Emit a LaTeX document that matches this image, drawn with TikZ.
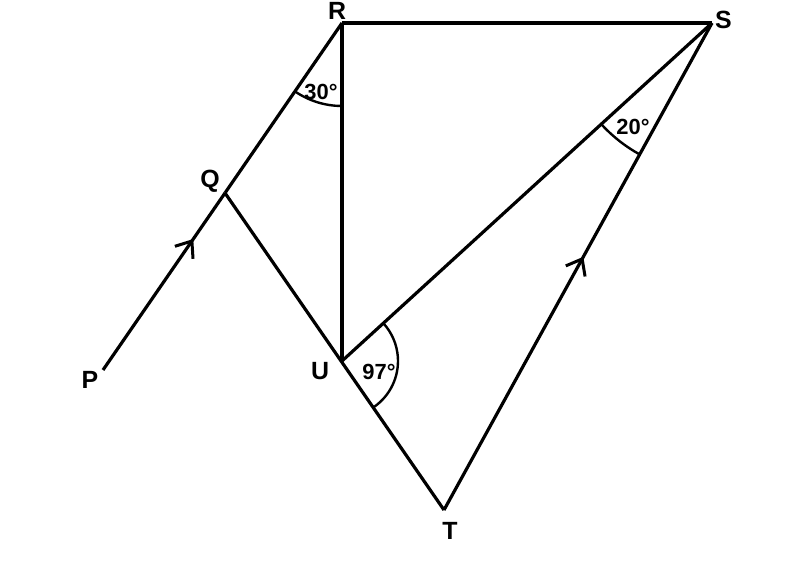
\documentclass[tikz,border=0pt]{standalone}
\usepackage{fontspec}
\setmainfont{Liberation Sans}
\usetikzlibrary{angles,arrows.meta,decorations.markings}
\begin{document}
\begin{tikzpicture}[x=1bp,y=1bp,
  seg/.style={line width=3.2bp, line cap=butt, line join=miter},
  arc/.style={draw, line width=2.4bp},
  lbl/.style={font=\fontsize{25}{25}\selectfont\bfseries, inner sep=0pt},
  ang/.style={font=\fontsize{22}{22}\selectfont\bfseries, inner sep=0pt},
  midarrow/.style={postaction={decorate}, decoration={markings,
     mark=at position #1 with {\arrow[line width=3bp]{Straight Barb[length=14bp,width=22bp]}}}}]
\useasboundingbox (0,0) rectangle (788,568);
\coordinate (R) at (342,545);
\coordinate (S) at (712,545);
\coordinate (Q) at (225,375);
\coordinate (P) at (103,198);
\coordinate (U) at (342,207);
\coordinate (T) at (444,58);
% angle arcs
\pic[arc, angle radius=83bp] {angle = Q--R--U};
\pic[arc, angle radius=150bp] {angle = U--S--T};
\pic[arc, angle radius=56bp] {angle = T--U--S};
% segments
\draw[seg] (R) -- (S);
\draw[seg] (R) -- (U);
\draw[seg] (R) -- (Q);
\draw[seg, midarrow=0.74] (P) -- (Q);
\draw[seg] (Q) -- (T);
\draw[seg] (U) -- (S);
\draw[seg, midarrow=0.52] (T) -- (S);
% labels
\node[lbl, anchor=south] (lR) at (337,548.5) {R};
\node[lbl] (lS) at (723.5,548) {S};
\node[lbl] (lQ) at (210,386.5) {Q};
\node[lbl] (lP) at (90,188) {P};
\node[lbl] (lU) at (320,197) {U};
\node[lbl] (lT) at (450,37) {T};
\node[ang] (a30) at (321,476) {30°};
\node[ang] (a20) at (633,441) {20°};
\node[ang] (a97) at (379,196) {97°};
\end{tikzpicture}
\end{document}
